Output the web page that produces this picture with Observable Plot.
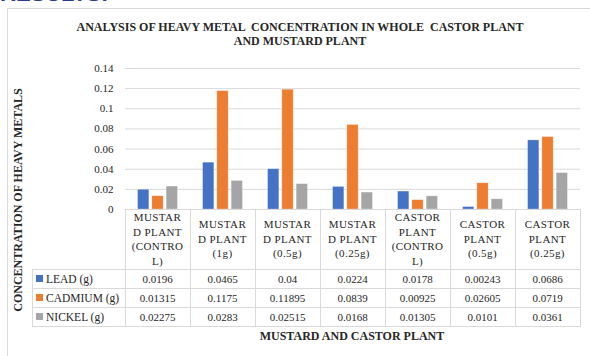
<!DOCTYPE html>
<html>
<head>
<meta charset="utf-8">
<script src="https://cdn.jsdelivr.net/npm/d3@7"></script>
<script src="https://cdn.jsdelivr.net/npm/@observablehq/plot@0.6"></script>
<style>
  body { margin: 0; background: #fff; }
  #chart {
    position: relative; width: 590px; height: 356px; overflow: hidden; background: #fff;
    font-family: "Liberation Serif", "Times New Roman", serif; color: #262626;
  }
  #chart svg { position: absolute; left: 0; top: 0; }
  .abs { position: absolute; }
  .heading { left: 0; top: -19px; font: bold 22px "Liberation Sans", Arial, sans-serif; color: #2b3990; white-space: nowrap; }
  .frame { left: 7px; top: 8px; width: 620px; height: 400px; border: 1px solid #d9d9d9; }
  .title { left: 0; width: 600px; top: 20px; text-align: center; font-weight: bold; font-size: 12px; line-height: 14px; white-space: pre; }
  .ylabel { width: 300px; left: -132px; top: 193px; text-align: center; font-weight: bold; font-size: 12px; line-height: 14px; transform: rotate(-90deg); white-space: nowrap; }
  .xlabel { width: 400px; left: 152px; top: 329px; text-align: center; font-weight: bold; font-size: 12px; line-height: 14px; white-space: nowrap; }
  .hline { height: 1px; background: #d9d9d9; }
  .vline { width: 1px; background: #d9d9d9; }
  .cell { display: flex; align-items: center; justify-content: center; text-align: center; font-size: 11px; white-space: nowrap; }
  .head { flex-direction: column; line-height: 14.5px; letter-spacing: 0.4px; }
  .legend { justify-content: flex-start; font-size: 11.5px; }
  .swatch { width: 7px; height: 7px; margin: 0 3px 0 4px; flex: none; }
</style>
</head>
<body>
<div id="chart"></div>
<script>
// Plant samples, as wrapped in the data-table header row
const categories = [
  "MUSTAR\nD PLANT\n(CONTRO\nL)",
  "MUSTAR\nD PLANT\n(1g)",
  "MUSTAR\nD PLANT\n(0.5g)",
  "MUSTAR\nD PLANT\n(0.25g)",
  "CASTOR\nPLANT\n(CONTRO\nL)",
  "CASTOR\nPLANT\n(0.5g)",
  "CASTOR\nPLANT\n(0.25g)"
];
const series = ["LEAD (g)", "CADMIUM (g)", "NICKEL (g)"];
const lead    = [0.0196, 0.0465, 0.04, 0.0224, 0.0178, 0.00243, 0.0686];
const cadmium = [0.01315, 0.1175, 0.11895, 0.0839, 0.00925, 0.02605, 0.0719];
const nickel  = [0.02275, 0.0283, 0.02515, 0.0168, 0.01305, 0.0101, 0.0361];
// Values exactly as printed in the data table
const leadText    = ["0.0196", "0.0465", "0.04", "0.0224", "0.0178", "0.00243", "0.0686"];
const cadmiumText = ["0.01315", "0.1175", "0.11895", "0.0839", "0.00925", "0.02605", "0.0719"];
const nickelText  = ["0.02275", "0.0283", "0.02515", "0.0168", "0.01305", "0.0101", "0.0361"];
const yTicks = [0, 0.02, 0.04, 0.06, 0.08, 0.1, 0.12, 0.14];
const colors = ["#4472C4", "#ED7D31", "#A5A5A5"];

const values = [lead, cadmium, nickel];
const texts = [leadText, cadmiumText, nickelText];
const rows = categories.flatMap((c, i) =>
  series.map((s, j) => ({ category: c, series: s, value: values[j][i] }))
);

const root = document.getElementById("chart");
function add(cls, style, text) {
  const d = document.createElement("div");
  d.className = "abs " + cls;
  Object.assign(d.style, style || {});
  if (text != null) d.textContent = text;
  root.appendChild(d);
  return d;
}

add("heading", {}, "RESULTS:");
add("frame");

const plot = Plot.plot({
  width: 590,
  height: 356,
  marginTop: 68,
  marginBottom: 147,
  marginLeft: 125,
  marginRight: 10,
  style: { background: "transparent", fontFamily: "'Liberation Serif', serif", fontSize: "11px", color: "#262626" },
  fx: { domain: categories, padding: 0, axis: null, round: false },
  x: { domain: series, paddingInner: 0.21, paddingOuter: 0.88, axis: null, round: false },
  y: { domain: [0, 0.14], axis: null },
  color: { domain: series, range: colors },
  marks: [
    Plot.ruleY(yTicks.slice(1), { stroke: "#d9d9d9", strokeWidth: 1 }),
    Plot.barY(rows, {
      fx: "category", x: "series", y: "value", fill: "series",
      stroke: "#ffffff", strokeOpacity: 0.45, strokeWidth: 0.6
    }),
    Plot.axisY({
      ticks: yTicks, tickSize: 0, tickPadding: 12, label: null,
      tickFormat: d => String(+d.toFixed(2)), fontSize: 11, fill: "#262626"
    })
  ]
});
root.appendChild(plot);

// Data table beneath the category axis, aligned with the facet bands
const fx = plot.scale("fx");
const colX = categories.map((c, i) => fx.apply ? fx.apply(c) : 125 + i * 65);
const colW = fx.bandwidth || 65;
const left = colX[0];
const right = colX[colX.length - 1] + colW;
const legendLeft = 32;
const rowEdges = [209, 269, 288, 307, 326];

add("hline", { left: left + "px", top: rowEdges[0] + "px", width: (right - left + 1) + "px" });
rowEdges.slice(1).forEach(y =>
  add("hline", { left: legendLeft + "px", top: y + "px", width: (right - legendLeft + 1) + "px" })
);
add("vline", { left: legendLeft + "px", top: rowEdges[1] + "px", height: (rowEdges[4] - rowEdges[1] + 1) + "px" });
colX.concat([right]).forEach(x =>
  add("vline", { left: Math.round(x) + "px", top: rowEdges[0] + "px", height: (rowEdges[4] - rowEdges[0] + 1) + "px" })
);

categories.forEach((c, i) => {
  const cell = add("cell head", {
    left: colX[i] + "px", top: rowEdges[0] + "px", width: colW + "px", height: (rowEdges[1] - rowEdges[0]) + "px"
  });
  c.split("\n").forEach(line => {
    const s = document.createElement("div");
    s.textContent = line;
    cell.appendChild(s);
  });
  texts.forEach((t, j) => {
    add("cell", {
      left: colX[i] + "px", top: rowEdges[j + 1] + "px", width: colW + "px", height: (rowEdges[j + 2] - rowEdges[j + 1]) + "px"
    }, t[i]);
  });
});

series.forEach((s, j) => {
  const cell = add("cell legend", {
    left: legendLeft + "px", top: rowEdges[j + 1] + "px", width: (left - legendLeft) + "px", height: (rowEdges[j + 2] - rowEdges[j + 1]) + "px"
  });
  const sw = document.createElement("div");
  sw.className = "swatch";
  sw.style.background = colors[j];
  cell.appendChild(sw);
  const t = document.createElement("span");
  t.textContent = s;
  cell.appendChild(t);
});

add("title", {}, "ANALYSIS OF HEAVY METAL  CONCENTRATION IN WHOLE  CASTOR PLANT\nAND MUSTARD PLANT");
add("ylabel", {}, "CONCENTRATION OF HEAVY METALS");
add("xlabel", {}, "MUSTARD AND CASTOR PLANT");
</script>
</body>
</html>
